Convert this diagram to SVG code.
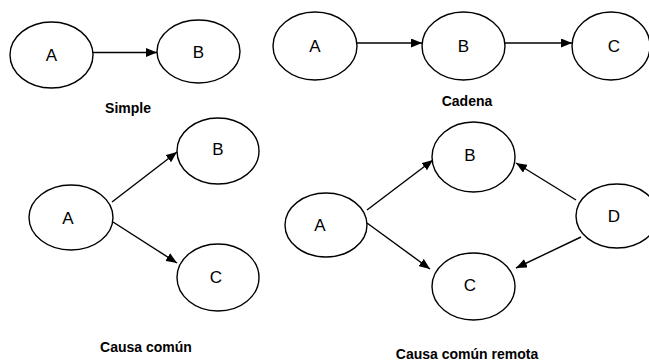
<svg xmlns="http://www.w3.org/2000/svg" width="649" height="362" viewBox="0 0 649 362">
<style>
.n ellipse{fill:#fff;stroke:#000;stroke-width:1.4}
.n text{font-family:"Liberation Sans",Arial,sans-serif;font-size:17px;text-anchor:middle;fill:#000}
.c line{stroke:#000;stroke-width:1.4;marker-end:url(#ah)}
.t{font-family:"Liberation Sans",Arial,sans-serif;font-size:14px;font-weight:bold;text-anchor:middle;fill:#000}
</style>
<defs>
<marker id="ah" viewBox="0 0 11 9" refX="11" refY="4.5" markerWidth="11" markerHeight="9" markerUnits="userSpaceOnUse" orient="auto">
<path d="M0,0 L11,4.5 L0,9 Z" fill="#000"/>
</marker>
</defs>
<rect width="649" height="362" fill="#fff"/>
<g class="c">
<line x1="93" y1="52.5" x2="157" y2="52.5"/>
<line x1="357" y1="43" x2="422" y2="43"/>
<line x1="505" y1="43" x2="572" y2="43"/>
<line x1="112" y1="202" x2="177" y2="152"/>
<line x1="113" y1="222" x2="177" y2="263"/>
<line x1="367" y1="210" x2="433" y2="160"/>
<line x1="367" y1="223" x2="430" y2="269"/>
<line x1="576" y1="200" x2="516" y2="163"/>
<line x1="581" y1="237" x2="516" y2="268"/>
</g>
<g id="s-A" class="n"><ellipse cx="51.5" cy="55" rx="41.5" ry="33"/><text x="51.5" y="61">A</text></g>
<g id="s-B" class="n"><ellipse cx="198.5" cy="51.5" rx="41.5" ry="31.5"/><text x="198.5" y="58">B</text></g>
<g id="c-A" class="n"><ellipse cx="315" cy="46" rx="42" ry="34"/><text x="315" y="52">A</text></g>
<g id="c-B" class="n"><ellipse cx="463.5" cy="46" rx="41.5" ry="34"/><text x="463.5" y="52">B</text></g>
<g id="c-C" class="n"><ellipse cx="611" cy="46" rx="39" ry="34"/><text x="614" y="52">C</text></g>
<g id="cc-A" class="n"><ellipse cx="71" cy="217.5" rx="42" ry="32.5"/><text x="68" y="224">A</text></g>
<g id="cc-B" class="n"><ellipse cx="218" cy="151" rx="41" ry="33"/><text x="218" y="155">B</text></g>
<g id="cc-C" class="n"><ellipse cx="218" cy="277.5" rx="41" ry="33.5"/><text x="216" y="283">C</text></g>
<g id="r-A" class="n"><ellipse cx="326" cy="225" rx="41" ry="32"/><text x="320" y="231">A</text></g>
<g id="r-B" class="n"><ellipse cx="473.5" cy="157" rx="41.5" ry="35"/><text x="470" y="161">B</text></g>
<g id="r-C" class="n"><ellipse cx="473.5" cy="286.5" rx="41.5" ry="33.5"/><text x="470" y="291">C</text></g>
<g id="r-D" class="n"><ellipse cx="617" cy="216" rx="41" ry="32"/><text x="614" y="222">D</text></g>
<text class="t" x="128" y="113">Simple</text>
<text class="t" x="467" y="106">Cadena</text>
<text class="t" x="146" y="352">Causa común</text>
<text class="t" x="467" y="359">Causa común remota</text>
</svg>
